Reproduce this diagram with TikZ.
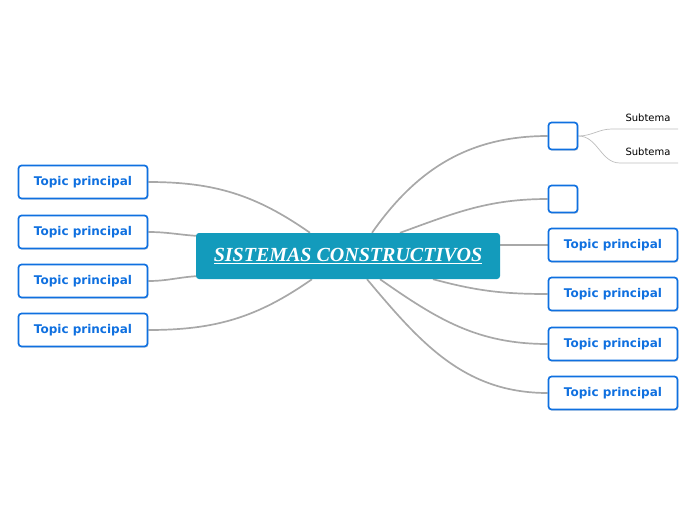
\documentclass[tikz,border=0pt]{standalone}
\usepackage{fontspec}
\setmainfont{Liberation Serif}
\setsansfont{DejaVu Sans}
\usepackage{xcolor}
\usepackage{tikz}
\usetikzlibrary{shadows}
\definecolor{mainteal}{HTML}{139BBC}
\definecolor{topicblue}{HTML}{0F70E0}
\definecolor{linegray}{HTML}{A8A8A8}
\definecolor{subgray}{HTML}{BDBDBD}
\pgfdeclarelayer{background}
\pgfsetlayers{background,main}

\begin{document}
\begin{tikzpicture}[
          x=1pt,y=-1pt,
          every node/.style={font=\sffamily},
          central/.style={rounded corners=3pt,fill=mainteal,text=white,
                          minimum width=304pt,minimum height=46pt,
                          font=\bfseries\itshape\fontsize{20}{22}\selectfont},
          topic/.style={draw=topicblue,line width=1.7pt,rounded corners=3pt,fill=white,
                        minimum width=129pt,minimum height=33pt,text=topicblue,
                        font=\sffamily\bfseries\fontsize{12}{14}\selectfont,
                        drop shadow={shadow xshift=0.8pt,shadow yshift=-1.2pt,opacity=0.3}},
          blank/.style={topic,minimum width=29pt,minimum height=27pt},
          subtxt/.style={font=\sffamily\fontsize{10}{12}\selectfont,text=black},
          link/.style={draw=linegray,line width=1.7pt},
          sublink/.style={draw=subgray,line width=0.7pt}
      ]
        \useasboundingbox (0,0) rectangle (696,520);

        \node[central] (ctr) at (348,256) {\underline{SISTEMAS CONSTRUCTIVOS}};

        % left side
        \node[topic] (l1) at (83,182) {Topic principal};
        \node[topic] (l2) at (83,232) {Topic principal};
        \node[topic] (l3) at (83,281) {Topic principal};
        \node[topic] (l4) at (83,330) {Topic principal};

        % right side
        \node[blank] (b1) at (563,136) {};
        \node[blank] (b2) at (563,199) {};
        \node[topic] (r1) at (613,245) {Topic principal};
        \node[topic] (r2) at (613,294) {Topic principal};
        \node[topic] (r3) at (613,344) {Topic principal};
        \node[topic] (r4) at (613,393) {Topic principal};

        % subtemas
        \node[subtxt] (s1) at (648,118) {Subtema};
        \node[subtxt] (s2) at (648,152) {Subtema};
        \coordinate (s1a) at (612,129);
        \coordinate (s1b) at (678,129);
        \coordinate (s2a) at (620,163);
        \coordinate (s2b) at (678,163);

        \begin{pgfonlayer}{background}
          \draw[link] (l1.east) to[out=0,in=145] ([xshift=-38pt]ctr.north);
          \draw[link] (l2.east) to[out=0,in=176] ([yshift=-3pt]ctr.north west);
          \draw[link] (l3.east) to[out=0,in=184] ([yshift=3pt]ctr.south west);
          \draw[link] (l4.east) to[out=0,in=215] ([xshift=-36pt]ctr.south);
          \draw[link] ([xshift=24pt]ctr.north) to[out=55,in=180] (b1.west);
          \draw[link] ([xshift=52pt]ctr.north) to[out=20,in=180] (b2.west);
          \draw[link] ([yshift=11pt]ctr.east) -- (r1.west);
          \draw[link] ([xshift=85pt]ctr.south) to[out=-15,in=180] (r2.west);
          \draw[link] ([xshift=32pt]ctr.south) to[out=-35,in=180] (r3.west);
          \draw[link] ([xshift=19pt]ctr.south) to[out=-50,in=180] (r4.west);
          \draw[sublink] (b1.east) to[out=0,in=180] (s1a) -- (s1b);
          \draw[sublink] (b1.east) to[out=0,in=180] (s2a) -- (s2b);
        \end{pgfonlayer}
      \end{tikzpicture}
\end{document}
